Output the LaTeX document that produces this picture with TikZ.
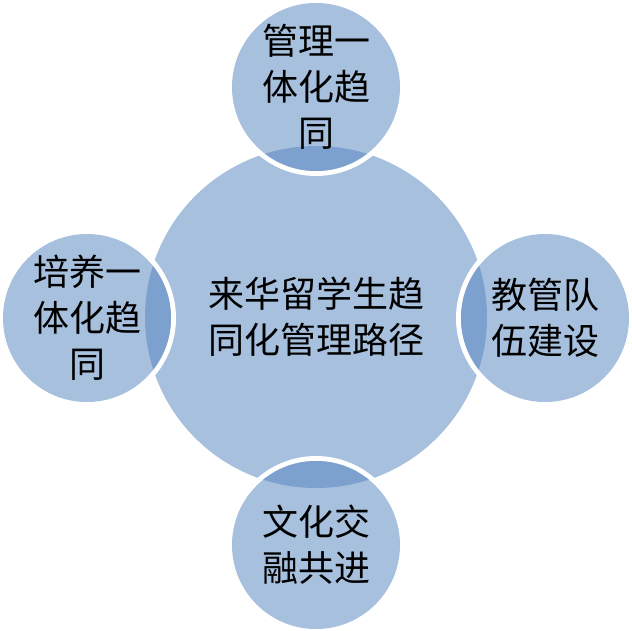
\documentclass[tikz,border=0pt]{standalone}
\usepackage{fontspec}
\newfontfamily\cjk{Noto Sans CJK SC}
\definecolor{mainblue}{HTML}{A7C0DE}
\definecolor{lensblue}{HTML}{7DA1CE}
\tikzset{
  hub/.style={circle, fill=mainblue, minimum size=342pt, inner sep=0pt},
  sat/.style={circle, fill=mainblue, minimum size=168pt, inner sep=0pt},
  gap/.style={fill=white},
  lens/.style={fill=lensblue},
  label/.style={align=center, font=\cjk\fontsize{36}{46}\selectfont, text=black}
}
\begin{document}
\begin{tikzpicture}[x=1pt,y=-1pt]
\useasboundingbox (0,0) rectangle (632,630);
\node[hub] (hub) at (316,317) {};
% satellites: white gap, fill, lens
\foreach \nm/\px/\py in {top/316/87, left/87/318, right/545/318, bottom/316/545}{
  \fill[gap] (\px,\py) circle (89);
  \node[sat] (\nm) at (\px,\py) {};
  \begin{scope}
    \clip (\px,\py) circle (84);
    \fill[lens] (hub.center) circle (171);
  \end{scope}
}
\node[label] (hubtext) at (hub.center) {来华留学生趋\\同化管理路径};
\node[label] (toptext) at (top.center) {管理一\\体化趋\\同};
\node[label] (lefttext) at (left.center) {培养一\\体化趋\\同};
\node[label] (righttext) at (right.center) {教管队\\伍建设};
\node[label] (bottomtext) at (bottom.center) {文化交\\融共进};
\end{tikzpicture}
\end{document}
